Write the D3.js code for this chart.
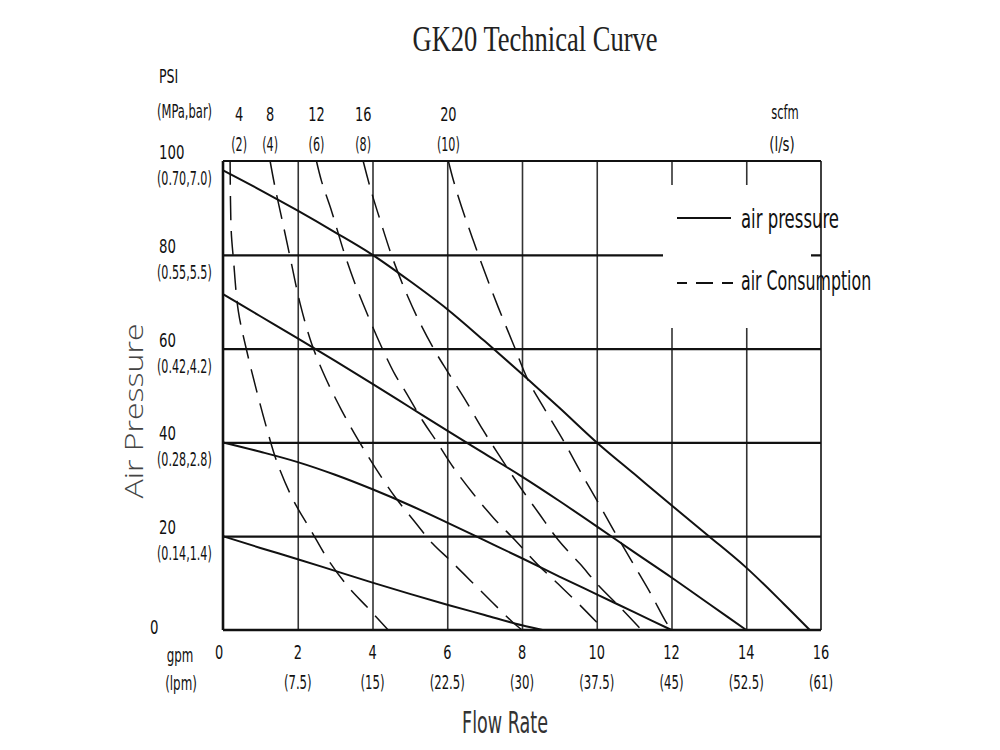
<!DOCTYPE html>
<html>
<head>
<meta charset="utf-8">
<script src="https://cdn.jsdelivr.net/npm/d3@7"></script>
<style>
  body { margin: 0; background: #fff; }
  svg { display: block; }
  .cad { font-family: "DejaVu Sans Condensed", "DejaVu Sans", sans-serif; fill: #111; }
</style>
</head>
<body>
<div id="chart"></div>
<script>
// 坐标轴刻度
const gpmTicks = [0, 2, 4, 6, 8, 10, 12, 14, 16];
const lpmLabels = ['', '7.5', '15', '22.5', '30', '37.5', '45', '52.5', '61'];
const psiTicks = [0, 20, 40, 60, 80, 100];
const mpaLabels = ['', '0.14,1.4', '0.28,2.8', '0.42,4.2', '0.55,5.5', '0.70,7.0'];
const scfmValues = [4, 8, 12, 16, 20];
const lsValues = [2, 4, 6, 8, 10];

// air pressure 曲线 [gpm, psi]
const pressure100 = [[0, 98], [1, 93.8], [2, 89.4], [3, 84.8], [4, 80], [5, 74.4], [6, 68.4], [7, 61.6], [8, 54.6],
  [9, 47.4], [10, 40], [11, 33.3], [12, 26.6], [13, 20], [14, 13.3], [15, 5.6], [15.7, 0]];
const pressure70 = [[0, 71.6], [1, 66.9], [2, 62.2], [3, 57.4], [4, 52.5], [5, 47.5], [6, 42.5], [7, 37.6], [8, 32.7],
  [9, 27.5], [10, 22.1], [11, 16.6], [12, 11.2], [13, 5.6], [14, 0]];
const pressure40 = [[0, 40], [1, 38], [2, 35.8], [3, 33.1], [4, 30], [5, 26.6], [6, 22.9], [7, 19.1], [8, 15.3],
  [9, 11.4], [10, 7.6], [11, 3.8], [12, 0]];
const pressure20 = [[0, 20], [1, 17.5], [2, 15.1], [3, 12.6], [4, 10.1], [5, 7.7], [6, 5.4], [7, 3.2], [8, 1.0], [8.55, 0]];

// air consumption 曲线 [gpm, psi]
const cons4 = [[0.19, 100], [0.22, 85], [0.28, 79], [0.41, 68], [0.63, 59.7], [0.9, 51], [1.17, 43], [1.44, 35.9],
  [1.88, 27.7], [2.37, 21], [2.82, 14.9], [3.35, 9.2], [3.89, 4.6], [4.42, 0]];
const cons8 = [[1.26, 100], [1.39, 94.5], [1.61, 86.4], [1.84, 77.8], [2.06, 69.7], [2.37, 61.1], [2.73, 54],
  [3.17, 46.9], [3.62, 40.5], [4.06, 34.8], [4.6, 28.4], [5.13, 23.1], [5.6, 18.5], [6.07, 14.9], [6.65, 10.3],
  [7.23, 5.7], [7.76, 1.6], [8, 0]];
const cons12 = [[2.5, 100], [2.64, 95.6], [2.91, 89.2], [3.22, 81], [3.53, 73.9], [3.89, 66.8], [4.24, 60.4],
  [4.6, 54.5], [4.87, 51], [5.36, 44.4], [5.69, 40.5], [6.16, 34.7], [6.69, 29.1], [7.25, 23.8], [7.81, 19.2],
  [8.4, 14.1], [8.97, 9.8], [9.55, 5.3], [10.2, 0]];
const cons16 = [[3.75, 100], [3.95, 94], [4.22, 87], [4.55, 79], [4.95, 71], [5.3, 65], [5.67, 59.5], [6.0, 55.2],
  [6.45, 49.5], [6.96, 42.6], [7.45, 36.5], [7.94, 30.6], [8.45, 24.9], [8.97, 19.2], [9.55, 14.1], [10.08, 9.2],
  [10.63, 4.8], [11.2, 0]];
const cons20 = [[6.03, 100], [6.16, 96], [6.38, 90.3], [6.69, 83.2], [7.05, 75.3], [7.36, 68.9], [7.76, 61.1],
  [8.16, 53.3], [8.65, 46.5], [9.12, 40.2], [9.56, 33.8], [10.05, 27], [10.5, 20.6], [10.97, 14.2], [11.44, 7.8],
  [11.84, 1.9], [12, 0]];

const pressureCurves = [pressure100, pressure70, pressure40, pressure20];
const consumptionCurves = [cons4, cons8, cons12, cons16, cons20];

const width = 1000, height = 750;
const margin = { top: 161, right: 179, bottom: 120, left: 223 };
const innerWidth = width - margin.left - margin.right;
const innerHeight = height - margin.top - margin.bottom;

const svg = d3.select('#chart').append('svg')
  .attr('width', width)
  .attr('height', height);

const x = d3.scaleLinear().domain([0, 16]).range([margin.left, margin.left + innerWidth]);
const y = d3.scaleLinear().domain([0, 100]).range([margin.top + innerHeight, margin.top]);

// 压缩文字宽度, 模仿 CAD 窄字体
function squeeze(sel, k) {
  sel.each(function () {
    const w = this.getComputedTextLength();
    d3.select(this).attr('textLength', w * k).attr('lengthAdjust', 'spacingAndGlyphs');
  });
}

// 网格
svg.append('g')
  .attr('transform', `translate(0,${y(0)})`)
  .call(d3.axisBottom(x).tickValues(gpmTicks.slice(1, -1)).tickSize(-innerHeight).tickFormat(''))
  .call(g => g.select('.domain').remove())
  .call(g => g.selectAll('line').attr('stroke', '#333').attr('stroke-width', 1.6));

svg.append('g')
  .attr('transform', `translate(${x(0)},0)`)
  .call(d3.axisLeft(y).tickValues(psiTicks.slice(1, -1)).tickSize(-innerWidth).tickFormat(''))
  .call(g => g.select('.domain').remove())
  .call(g => g.selectAll('line').attr('stroke', '#111').attr('stroke-width', 2.2));

// 图例区域遮住网格
svg.append('rect')
  .attr('x', 663).attr('y', 185)
  .attr('width', 148).attr('height', 143)
  .attr('fill', '#fff');

// 边框
const frame = svg.append('g').attr('stroke', '#111').attr('fill', 'none');
frame.append('line').attr('x1', x(0)).attr('x2', x(16)).attr('y1', y(100)).attr('y2', y(100)).attr('stroke-width', 2);
frame.append('line').attr('x1', x(16)).attr('x2', x(16)).attr('y1', y(100)).attr('y2', y(0)).attr('stroke-width', 1.6);
frame.append('line').attr('x1', x(0)).attr('x2', x(16)).attr('y1', y(0)).attr('y2', y(0)).attr('stroke-width', 2.6);
frame.append('line').attr('x1', x(0)).attr('x2', x(0)).attr('y1', y(100)).attr('y2', y(0)).attr('stroke-width', 2.6);

// 曲线
const pressureLine = d3.line()
  .x(d => x(d[0]))
  .y(d => y(d[1]))
  .curve(d3.curveMonotoneX);

const consumptionLine = d3.line()
  .x(d => x(d[0]))
  .y(d => y(d[1]))
  .curve(d3.curveCatmullRom.alpha(0.5));

svg.append('g').selectAll('path')
  .data(pressureCurves)
  .join('path')
  .attr('d', pressureLine)
  .attr('fill', 'none')
  .attr('stroke', '#111')
  .attr('stroke-width', 2);

svg.append('g').selectAll('path')
  .data(consumptionCurves)
  .join('path')
  .attr('d', consumptionLine)
  .attr('fill', 'none')
  .attr('stroke', '#111')
  .attr('stroke-width', 1.5)
  .attr('stroke-dasharray', '24,11');

// 标题
svg.append('text')
  .attr('x', 535).attr('y', 51)
  .attr('text-anchor', 'middle')
  .style('font-family', '"Liberation Serif", "DejaVu Serif", serif')
  .style('font-size', '35px')
  .style('fill', '#222')
  .text('GK20 Technical Curve')
  .attr('textLength', 245)
  .attr('lengthAdjust', 'spacingAndGlyphs');

// x 轴文字
const xl = svg.append('g').attr('class', 'cad').style('font-size', '20px').attr('text-anchor', 'middle');
xl.selectAll('text.num')
  .data(gpmTicks)
  .join('text')
  .attr('class', 'num')
  .attr('x', d => x(d) - (d === 0 ? 4 : 0))
  .attr('y', 659)
  .text(d => d)
  .call(squeeze, 0.72);
xl.selectAll('text.sub')
  .data(lpmLabels.filter(d => d))
  .join('text')
  .attr('class', 'sub')
  .attr('x', (d, i) => x(gpmTicks[i + 1]))
  .attr('y', 689)
  .text(d => `(${d})`)
  .call(squeeze, 0.65);
xl.append('text').attr('x', 180).attr('y', 662).text('gpm').call(squeeze, 0.66);
xl.append('text').attr('x', 181).attr('y', 690).text('(lpm)').call(squeeze, 0.66);

// y 轴文字
const yl = svg.append('g').attr('class', 'cad').style('font-size', '20px');
yl.selectAll('text.num')
  .data(psiTicks)
  .join('text')
  .attr('class', 'num')
  .attr('x', d => d === 0 ? 150 : 159)
  .attr('y', d => d === 0 ? y(d) + 4 : y(d) - 2)
  .text(d => d)
  .call(squeeze, 0.74);
yl.selectAll('text.sub')
  .data(mpaLabels.slice(1))
  .join('text')
  .attr('class', 'sub')
  .attr('x', 157)
  .attr('y', (d, i) => y(psiTicks[i + 1]) + 24)
  .text(d => `(${d})`)
  .call(squeeze, 0.62);
yl.append('text').attr('x', 159).attr('y', 83).text('PSI').call(squeeze, 0.7);
yl.append('text').attr('x', 157).attr('y', 118).text('(MPa,bar)').call(squeeze, 0.64);

// 顶部 scfm 文字
const tl = svg.append('g').attr('class', 'cad').style('font-size', '20px').attr('text-anchor', 'middle');
const topX = (i) => x(consumptionCurves[i][0][0]) + (i === 0 ? 9 : 0);
tl.selectAll('text.num')
  .data(scfmValues)
  .join('text')
  .attr('class', 'num')
  .attr('x', (d, i) => topX(i))
  .attr('y', 121)
  .text(d => d)
  .call(squeeze, 0.72);
tl.selectAll('text.sub')
  .data(lsValues)
  .join('text')
  .attr('class', 'sub')
  .attr('x', (d, i) => topX(i))
  .attr('y', 151)
  .text(d => `(${d})`)
  .call(squeeze, 0.62);
tl.append('text').attr('x', 785).attr('y', 119).text('scfm').call(squeeze, 0.64);
tl.append('text').attr('x', 782).attr('y', 151).text('(l/s)').call(squeeze, 0.74);

// 图例
const legend = svg.append('g');
legend.append('line')
  .attr('x1', 677).attr('x2', 731).attr('y1', 218).attr('y2', 218)
  .attr('stroke', '#111').attr('stroke-width', 1.8);
legend.append('line')
  .attr('x1', 677).attr('x2', 733).attr('y1', 283).attr('y2', 283)
  .attr('stroke', '#111').attr('stroke-width', 1.8)
  .attr('stroke-dasharray', '10,9,17,9,11');
legend.append('text')
  .attr('class', 'cad').style('font-size', '27px')
  .attr('x', 741).attr('y', 228)
  .text('air pressure')
  .call(squeeze, 0.68);
legend.append('text')
  .attr('class', 'cad').style('font-size', '27px')
  .attr('x', 741).attr('y', 290)
  .text('air Consumption')
  .call(squeeze, 0.65);

// 坐标轴标题
svg.append('text')
  .attr('transform', 'translate(143,411) rotate(-90)')
  .attr('text-anchor', 'middle')
  .style('font-family', '"Open Sans", "Noto Sans", sans-serif')
  .style('font-weight', 300)
  .style('font-size', '25px')
  .style('fill', '#444')
  .text('Air Pressure')
  .attr('textLength', 175)
  .attr('lengthAdjust', 'spacingAndGlyphs');

svg.append('text')
  .attr('x', 505).attr('y', 733)
  .attr('text-anchor', 'middle')
  .attr('class', 'cad')
  .style('font-size', '31px')
  .style('fill', '#333')
  .text('Flow Rate')
  .call(squeeze, 0.63);
</script>
</body>
</html>
